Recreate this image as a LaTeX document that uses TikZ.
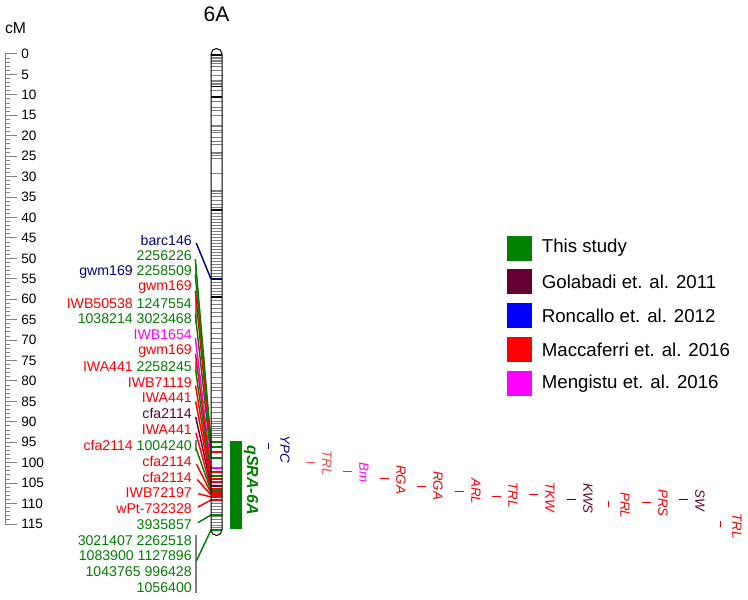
\documentclass[tikz,border=0pt]{standalone}
\usepackage{fontspec}
\setmainfont{Liberation Sans}
\usetikzlibrary{positioning,calc}
\definecolor{Navy}{HTML}{000080}
\definecolor{Green}{HTML}{008000}
\definecolor{Brown}{HTML}{660033}
\definecolor{Blue}{HTML}{0000FF}
\definecolor{Red}{HTML}{FF0000}
\definecolor{Pink}{HTML}{EC4C4C}
\definecolor{Magenta}{HTML}{FF00FF}
\definecolor{Gray}{HTML}{808080}
\tikzset{
  scalelab/.style={anchor=west,inner sep=0pt,font=\fontsize{10.2}{12}\selectfont},
  mklabel/.style={anchor=east,inner sep=0pt,font=\fontsize{10.6}{12}\selectfont},
  trait/.style={rotate=-90,anchor=west,inner sep=0pt,font=\fontsize{10}{12}\selectfont\itshape},
  keybox/.style={minimum size=18.75pt,inner sep=0pt},
  keytext/.style={inner sep=0pt,font=\fontsize{14}{16}\selectfont},
  ruler/.style={draw=Gray,line width=.75pt},
  band/.style={draw=Gray,line width=.6pt},
  link/.style={line width=1.1pt,shorten <=2.5pt},
  bracket/.style={draw=Gray,line width=1pt},
  tick/.style={line width=.7pt}
}

\begin{document}
\begin{tikzpicture}[x=0.75pt,y=-0.75pt]
  \useasboundingbox (0,0) rectangle (748,599);
  % scale in cM
  \node[font=\fontsize{11.8}{14}\selectfont] (unit) at (15.5,28) {cM};
  \draw[ruler] (5,54) -- (5,524);
  \foreach \i in {0,...,115}
    \draw[ruler] (5,{54+4.087*\i}) -- ++(5,0);
  \foreach \i in {0,5,...,115}{
    \draw[ruler] (5,{54+4.087*\i}) -- ++(12,0);
    \node[scalelab] (r\i) at (21,{54+4.087*\i}) {\i};
  }

  % chromosome 6A
  \node[font=\fontsize{15.8}{18}\selectfont] (chr) at (216.5,14) {6A};
  \foreach \y in {57,58.5,60,61.5,63,66,70,75,80,81.5,83,84.5,90,101,107,110,115,125,126.5,130,132,137,141,144,152,153.5,155,158,173,190,191.5,193,196,200,204,207,213,216,219,222,225,228,231,234,237,240,243,246,249,252,255,258,261,264,267,270,273,276,282,285,288,291,294,300,304,308,312,316,322,328,333,338,342,348,353,358,363,366,372,377,383,387,390,397,402,407,412,418,421,423,426,428,430,433,435,437,503,506,509,512,516,519,522,525,527}
    \draw[band] (211,\y) -- (222,\y);
  \foreach \y in {55,86.5,97,210,297}
    \draw[band,draw=black,line width=1pt] (211,\y) -- (222,\y);

  % marker names
  \foreach \n/\txt/\col in {1/barc146/Navy, 2/2256226/Green, 3/{\textcolor{Navy}{gwm169} 2258509}/Green,
      4/gwm169/Red, 5/{\textcolor{Red}{IWB50538} 1247554}/Green, 6/1038214 3023468/Green,
      7/IWB1654/Magenta, 8/gwm169/Red, 9/{\textcolor{Red}{IWA441} 2258245}/Green,
      10/IWB71119/Red, 11/IWA441/Red, 12/cfa2114/Brown, 13/IWA441/Red,
      14/{\textcolor{Red}{cfa2114} 1004240}/Green, 15/cfa2114/Red, 16/cfa2114/Red,
      17/IWB72197/Red, 18/wPt-732328/Red, 19/3935857/Green, 20/3021407 2262518/Green,
      21/1083900 1127896/Green, 22/1043765 996428/Green, 23/1056400/Green}
    \node[mklabel,text=\col] (l\n) at (192,{240+15.8*(\n-1)}) {\txt};

  % markers at one position
  \draw[bracket] ([xshift=3pt]l3.north east) -- ([xshift=3pt]l3.south east);
  \draw[bracket] ([xshift=3pt]l5.north east) -- ([xshift=3pt]l6.south east);
  \draw[bracket] ([xshift=3pt]l9.north east) -- ([xshift=3pt]l9.south east);
  \draw[bracket] ([xshift=3pt]l14.north east) -- ([xshift=3pt]l14.south east);
  \draw[bracket] ([xshift=3pt]l20.north east) -- ([xshift=3pt]l23.south east);

  % links to the chromosome
  \foreach \a/\b/\d/\col in {1/1/279/Navy, 2/2/442/Green, 3/3/447/Green, 4/4/452/Red,
      5/6/458/Green, 7/7/468/Magenta, 8/8/472/Red, 9/9/476/Green, 10/10/479/Red,
      11/11/482/Red, 12/12/486/Brown, 13/13/489/Red, 14/14/491/Green, 15/15/493/Red,
      16/16/495/Red, 17/17/497/Red, 18/18/500/Red, 19/19/515/Green, 20/23/530/Green}{
    \coordinate (d\a) at (211,\d);
    \draw[link,draw=\col] ($(l\a.east)!.5!(l\b.east)+(3,0)$) -- (d\a);
    \draw[draw=\col,line width=1pt] (d\a) -- ++(11,0);
  }

  % outline
  \draw[line width=.75pt] (211,54) arc[start angle=180,end angle=360,radius=5.5]
    -- (222,530) arc[start angle=0,end angle=180,radius=5.5] -- cycle;

  % QTL of this study
  \node[fill=Green,minimum width=9pt,minimum height=66pt,inner sep=0pt] (qtl) at (236,485) {};
  \node[rotate=-90,inner sep=0pt,text=Green,font=\fontsize{12}{14}\selectfont\bfseries\itshape]
    (qtlname) at (251,480) {qSRA-6A};

  % reported QTLs
  \foreach \n/\x/\y/\ly/\dx/\dy/\txt/\col in {1/268/446/435/0/3/YPC/Navy, 2/310/462/450/4.5/0/TRL/Pink,
      3/347/471/462/4.5/0/Bm/Magenta, 4/384/478/465/4.5/0/RGA/Red, 5/421/486/471/4.5/0/RGA/Red,
      6/459/491/478/4.5/0/ARL/Red, 7/496/496/482/4.5/0/TRL/Red, 8/533/494/482/4.5/0/TKW/Red,
      9/571/499/483/4.5/0/KWS/Brown, 10/608/504/492/0/3/PRL/Red, 11/646/502/489/4.5/0/PRS/Red,
      12/683/499/489/4.5/0/SW/Brown, 13/720/524/513/0/3/TRL/Red}{
    \draw[tick,draw=\col] ({\x-\dx},{\y-\dy}) -- ({\x+\dx},{\y+\dy});
    \node[trait,text=\col] (t\n) at (\x+17,\ly) {\txt};
  }

  % legend
  \foreach \n/\col/\txt in {1/Green/This study, 2/Brown/Golabadi et. al. 2011,
      3/Blue/Roncallo et. al. 2012, 4/Red/Maccaferri et. al. 2016, 5/Magenta/Mengistu et. al. 2016}{
    \node[keybox,fill=\col] (k\n) at (519.5,{248+33.8*(\n-1)}) {};
    \node[keytext,right=7pt of k\n] (kt\n) {\txt};
  }
\end{tikzpicture}
\end{document}
